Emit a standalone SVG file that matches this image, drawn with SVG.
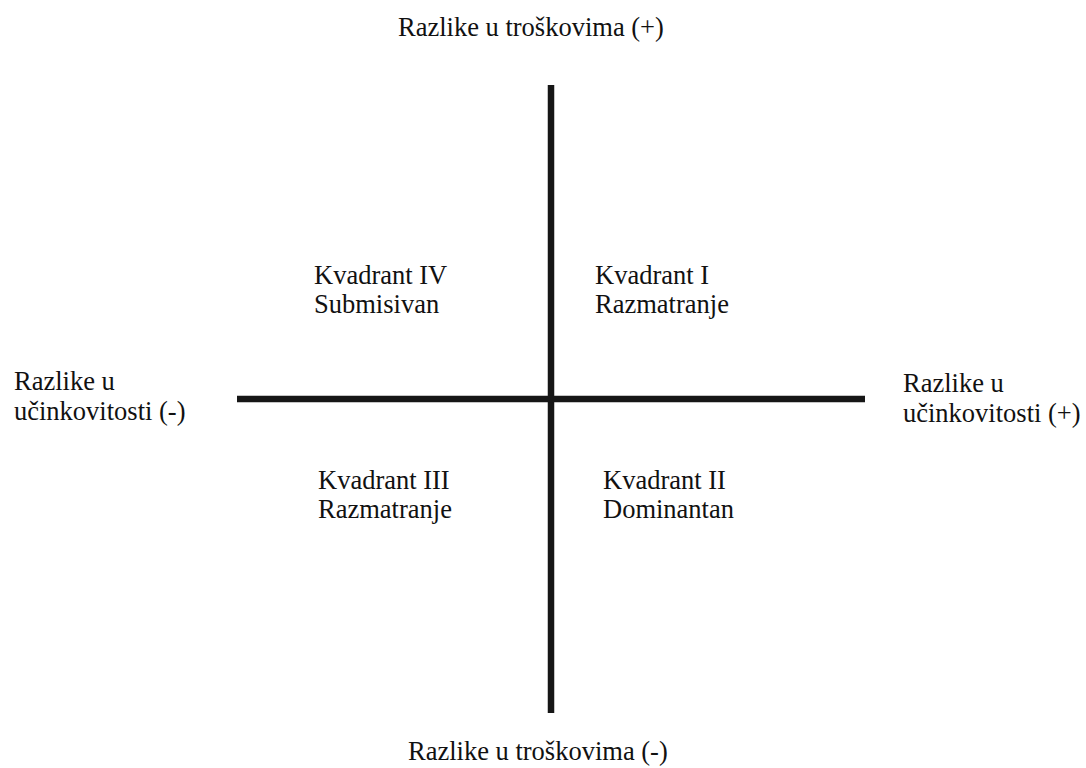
<svg xmlns="http://www.w3.org/2000/svg" width="1086" height="768" viewBox="0 0 1086 768">
<style>
text{font-family:"Liberation Serif","Times New Roman",serif;font-size:26.5px;fill:#111}
.ax{stroke:#161616;stroke-width:6.5;fill:none}
</style>
<rect width="1086" height="768" fill="#fff"/>
<g id="axes">
<line class="ax" x1="551" y1="85" x2="551" y2="713"/>
<line class="ax" x1="237" y1="399" x2="865" y2="399"/>
</g>
<g id="top-label"><text x="398" y="36">Razlike u troškovima (+)</text></g>
<g id="bottom-label"><text x="408" y="760">Razlike u troškovima (-)</text></g>
<g id="left-label"><text x="14" y="390">Razlike u</text><text x="14" y="420">učinkovitosti (-)</text></g>
<g id="right-label"><text x="903" y="392">Razlike u</text><text x="903" y="422">učinkovitosti (+)</text></g>
<g id="q4"><text x="314" y="284">Kvadrant IV</text><text x="314" y="313">Submisivan</text></g>
<g id="q1"><text x="595" y="284">Kvadrant I</text><text x="595" y="313">Razmatranje</text></g>
<g id="q3"><text x="318" y="489">Kvadrant III</text><text x="318" y="518">Razmatranje</text></g>
<g id="q2"><text x="603" y="489">Kvadrant II</text><text x="603" y="518">Dominantan</text></g>
</svg>
